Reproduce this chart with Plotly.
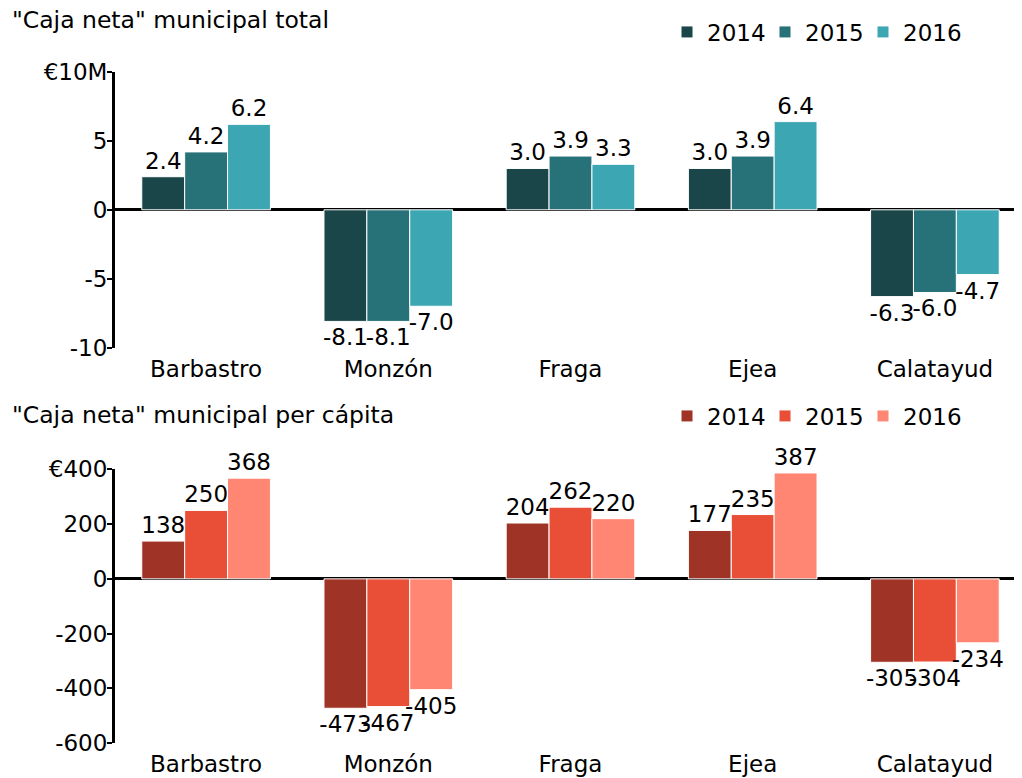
import plotly.graph_objects as go
from plotly.subplots import make_subplots

# ---------- datos ----------
municipios = ["Barbastro", "Monzón", "Fraga", "Ejea", "Calatayud"]
anios = ["2014", "2015", "2016"]

# caja neta total (millones de euros)
total_2014 = [2.4, -8.1, 3.0, 3.0, -6.3]
total_2015 = [4.2, -8.1, 3.9, 3.9, -6.0]
total_2016 = [6.2, -7.0, 3.3, 6.4, -4.7]

# caja neta per cápita (euros)
pc_2014 = [138, -473, 204, 177, -305]
pc_2015 = [250, -467, 262, 235, -304]
pc_2016 = [368, -405, 220, 387, -234]

colores_total = ["#1b4649", "#277178", "#3ca6b3"]
colores_pc = ["#9e3326", "#e94f37", "#fe8673"]

FUENTE = "Verdana, DejaVu Sans, sans-serif"
TAM = 23

# el body de la página tiene 8px de margen: se descuentan aquí
ML, MR, MT, MB = 107, 4, 63, 43
ANCHO = 1022 - ML - MR
ALTO = 778 - MT - MB


def px_x(x_ventana):
    return (x_ventana - 8 - ML) / ANCHO


def px_y(y_ventana):
    return (778 - MB - (y_ventana - 8)) / ALTO


fig = make_subplots(rows=2, cols=1, vertical_spacing=0.0)

for anio, vals, col in zip(anios, [total_2014, total_2015, total_2016], colores_total):
    fig.add_trace(go.Bar(x=municipios, y=vals, name=anio, marker_color=col,
                         marker_line=dict(color="white", width=1),
                         text=[f"{v:.1f}" for v in vals], textposition="outside",
                         textfont=dict(size=TAM, color="black"),
                         constraintext="none", cliponaxis=False,
                         legend="legend"), row=1, col=1)

for anio, vals, col in zip(anios, [pc_2014, pc_2015, pc_2016], colores_pc):
    fig.add_trace(go.Bar(x=municipios, y=vals, name=anio, marker_color=col,
                         marker_line=dict(color="white", width=1),
                         text=[f"{v:d}" for v in vals], textposition="outside",
                         textfont=dict(size=TAM, color="black"),
                         constraintext="none", cliponaxis=False,
                         legend="legend2"), row=2, col=1)

# ejes
fig.update_xaxes(showline=False, showgrid=False, ticks="", tickfont=dict(size=TAM),
                 ticklabelstandoff=5,
                 range=[-0.5, 4.5], domain=[0, 1], automargin=False)
fig.update_yaxes(showgrid=False, showline=True, linecolor="black", linewidth=3,
                 ticks="outside", ticklen=5, tickwidth=2, tickcolor="black",
                 ticklabelstandoff=-5, automargin=False,
                 zeroline=True, zerolinecolor="black", zerolinewidth=3,
                 tickfont=dict(size=TAM))
fig.update_yaxes(domain=[px_y(347), 1.0], range=[-10, 10],
                 tickvals=[-10, -5, 0, 5, 10],
                 ticktext=["-10", "-5", "0", "5", "€10M"], row=1, col=1)
fig.update_yaxes(domain=[0.0, px_y(469)], range=[-600, 400],
                 tickvals=[-600, -400, -200, 0, 200, 400],
                 ticktext=["-600", "-400", "-200", "0", "200", "€400"], row=2, col=1)

leyenda = dict(orientation="h", xref="paper", yref="paper",
               x=px_x(667), xanchor="left", yanchor="middle",
               font=dict(size=TAM), entrywidth=53, entrywidthmode="pixels",
               bgcolor="rgba(0,0,0,0)")

fig.update_layout(
    width=1022, height=778,
    margin=dict(l=ML, r=MR, t=MT, b=MB),
    font=dict(family=FUENTE, size=TAM, color="black"),
    plot_bgcolor="white", paper_bgcolor="white",
    barmode="group", bargap=0.294, bargroupgap=0.0,
    legend=dict(leyenda, y=px_y(32)),
    legend2=dict(leyenda, y=px_y(416)),
    annotations=[
        dict(text='"Caja neta" municipal total', xref="paper", yref="paper",
             x=px_x(10), y=px_y(19), xanchor="left", yanchor="middle",
             showarrow=False, font=dict(size=23.5)),
        dict(text='"Caja neta" municipal per cápita', xref="paper", yref="paper",
             x=px_x(10), y=px_y(415), xanchor="left", yanchor="middle",
             showarrow=False, font=dict(size=23.5)),
    ],
)

fig.write_html("out.html")
